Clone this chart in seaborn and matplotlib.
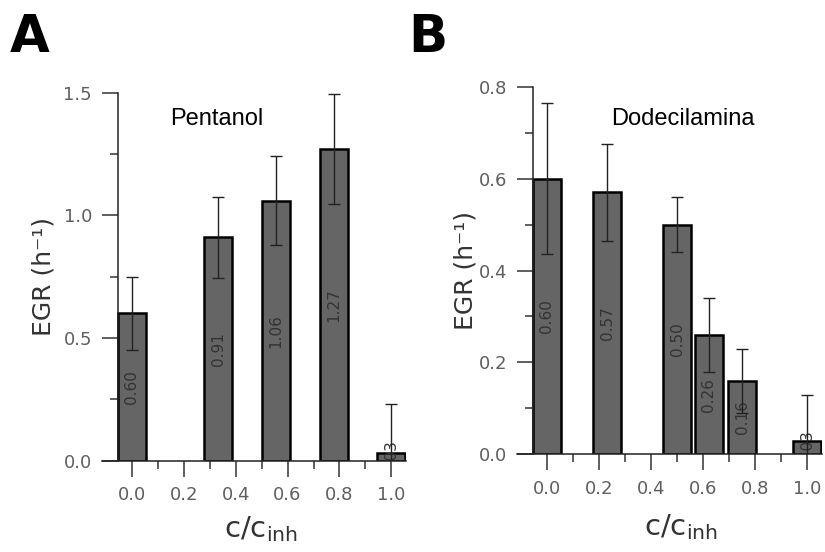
import matplotlib
matplotlib.use("Agg")
import matplotlib.pyplot as plt
import seaborn as sns
import numpy as np
import pandas as pd
from matplotlib.ticker import FixedLocator
from matplotlib.container import BarContainer

# -----------------------------
# Data
# -----------------------------
pent_x = [0.0, 0.333, 0.556, 0.778, 1.0]
pent_egr = [0.60, 0.91, 1.06, 1.27, 0.03]
pent_err = [0.15, 0.165, 0.18, 0.225, 0.20]

dode_x = [0.0, 0.233, 0.5, 0.622, 0.75, 1.0]
dode_egr = [0.60, 0.57, 0.50, 0.26, 0.16, 0.03]
dode_err = [0.165, 0.105, 0.06, 0.08, 0.07, 0.10]

x_ticks = [0.0, 0.2, 0.4, 0.6, 0.8, 1.0]
x_ticklabels = ["0.0", "0.2", "0.4", "0.6", "0.8", "1.0"]
pent_yticks = [0.0, 0.5, 1.0, 1.5]
dode_yticks = [0.0, 0.2, 0.4, 0.6, 0.8]

# -----------------------------
# Style
# -----------------------------
sns.set_style("ticks")
plt.rcParams["font.family"] = ["DejaVu Sans"]

BAR_COLOR = "#656565"
TICK_COLOR = "#5f5f5f"
BAR_WIDTH = 0.108  # in data units


def draw_panel(ax, xs, vals, errs, ymax, yticks, yminor, spine_x, title, title_xy, ylab_x, xlab_xy):
    df = pd.DataFrame({"c": xs, "egr": vals})
    width = BAR_WIDTH / np.min(np.diff(xs))
    sns.barplot(data=df, x="c", y="egr", native_scale=True, orient="x",
                width=width, color=BAR_COLOR, saturation=1,
                edgecolor="black", linewidth=1.8, errorbar=None, ax=ax)

    # value labels inside the bars
    for cont in ax.containers:
        if isinstance(cont, BarContainer):
            ax.bar_label(cont, fmt="%.2f", label_type="center", rotation=90,
                         fontsize=11, color="#333333", clip_on=True)

    ax.errorbar(xs, vals, yerr=errs, fmt="none", ecolor="#222222",
                elinewidth=1.0, capsize=4.5, capthick=1.0, zorder=3)

    ax.set_xlim(-0.115, 1.055)
    ax.set_ylim(0, ymax)
    ax.spines["left"].set_position(("data", spine_x))
    sns.despine(ax=ax)
    for s in ["left", "bottom"]:
        ax.spines[s].set_linewidth(1.1)
        ax.spines[s].set_color("#222222")

    ax.set_xticks(x_ticks)
    ax.set_xticklabels(x_ticklabels)
    ax.xaxis.set_minor_locator(FixedLocator([0.1, 0.3, 0.5, 0.7, 0.9]))
    ax.set_yticks(yticks)
    ax.set_yticklabels([f"{t:.1f}" for t in yticks])
    ax.yaxis.set_minor_locator(FixedLocator(yminor))
    ax.tick_params(which="major", length=11.5, width=1.1, color="#333333",
                   labelsize=13, labelcolor=TICK_COLOR, pad=7)
    ax.tick_params(which="minor", length=5.8, width=1.1, color="#333333")

    ax.set_ylabel("EGR (h\u207b\u00b9)", fontsize=18, color="#333333")
    ax.yaxis.set_label_coords(ylab_x, 0.5)
    ax.set_xlabel(r"c/c$_{\mathregular{inh}}$", fontsize=21, color="#333333")
    ax.xaxis.set_label_coords(*xlab_xy)
    ax.xaxis.label.set_va("baseline")

    ax.text(title_xy[0], title_xy[1], title, transform=ax.transAxes,
            ha="center", va="baseline", fontsize=17, family="Liberation Sans",
            color="black")


fig = plt.figure(figsize=(8.25, 5.52), dpi=100)
axA = fig.add_axes([0.1236, 0.1654, 0.3681, 0.6667])
axB = fig.add_axes([0.6263, 0.1770, 0.3697, 0.6659])

draw_panel(axA, pent_x, pent_egr, pent_err, 1.5, pent_yticks, [0.25, 0.75, 1.25],
           -0.054, "Pentanol", (0.377, 0.912), -0.152, (0.525, -0.207))
draw_panel(axB, dode_x, dode_egr, dode_err, 0.8, dode_yticks, [0.1, 0.3, 0.5, 0.7],
           -0.052, "Dodecilamina", (0.544, 0.896), -0.128, (0.538, -0.2195))

fig.text(10 / 825, 1 - 51.7 / 552, "A", fontsize=37, fontweight="bold",
         color="black", ha="left", va="baseline")
fig.text(408 / 825, 1 - 51.7 / 552, "B", fontsize=37, fontweight="bold",
         color="black", ha="left", va="baseline")

fig.savefig("out.png", dpi=100)
